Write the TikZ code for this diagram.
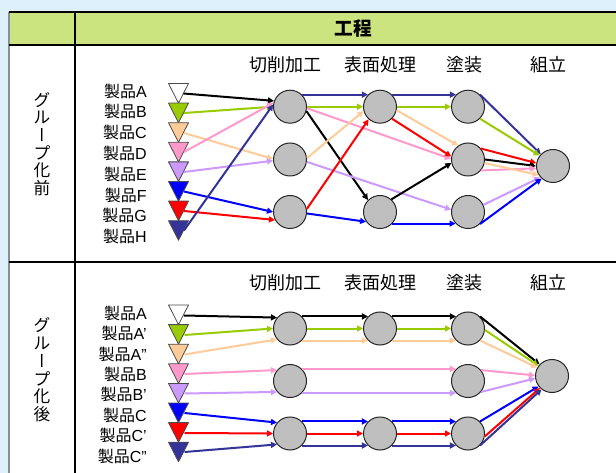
\documentclass[tikz,border=0pt]{standalone}
\usepackage{fontspec}
\setmainfont{Noto Sans CJK JP}
\newfontfamily\lat{Liberation Sans}
\newfontfamily\vjp[RawFeature=+vert]{Noto Sans CJK JP}
\usetikzlibrary{arrows.meta}
\definecolor{bgblue}{RGB}{223,240,253}
\definecolor{hdr}{RGB}{204,228,128}
\definecolor{cgreen}{RGB}{153,204,0}
\definecolor{cpeach}{RGB}{255,204,153}
\definecolor{cpink}{RGB}{255,153,204}
\definecolor{clav}{RGB}{204,153,255}
\definecolor{cblue}{RGB}{0,0,255}
\definecolor{cred}{RGB}{255,0,0}
\definecolor{cnavy}{RGB}{51,51,153}
\definecolor{cgray}{RGB}{191,191,191}
\begin{document}
\begin{tikzpicture}[x=0.75pt,y=-0.75pt,
  proc/.style={circle,draw=black!85,line width=0.75pt,fill=cgray,minimum size=24.75pt,inner sep=0pt},
  flow/.style={line width=1.5pt,-{Triangle[length=4.5pt,width=4.5pt]}},
  tri/.style={draw=black!70,line width=0.6pt,line join=round},
  lbl/.style={anchor=east,font=\fontsize{12pt}{14pt}\selectfont,inner sep=0pt},
  colhd/.style={font=\fontsize{13.5pt}{15pt}\selectfont,inner sep=0pt},
  grid/.style={line width=0.8pt,draw=black},
  vtext/.style={align=center,inner sep=0pt,font=\fontsize{12.5pt}{13.3pt}\selectfont}
]
\useasboundingbox (0,0) rectangle (616,473);
\fill[bgblue] (0,0) rectangle (616,473);
% table
\fill[white] (9,12) rectangle (616,473);
\fill[hdr] (9,12) rectangle (616,45);
\draw[black!40!bgblue,line width=0.8pt] (9,12) -- (9,473);
\draw[grid] (9,12) -- (616,12);
\draw[grid] (9,45) -- (616,45);
\draw[grid] (75,12) -- (75,473);
\draw[grid] (9,262) -- (616,262);
\node[font=\fontsize{14pt}{16pt}\selectfont\bfseries,inner sep=0pt] (hd) at (353,28.5) {工程};
\node[vtext] (v1) at (42,144) {グ\\ル\\{\vjp ー}\\プ\\化\\前};
\node[vtext] (v2) at (42,370) {グ\\ル\\{\vjp ー}\\プ\\化\\後};

% ---------- top section ----------
\node[colhd] (h1) at (285,65) {切削加工};
\node[colhd] (h2) at (380,65) {表面処理};
\node[colhd] (h3) at (464,65) {塗装};
\node[colhd] (h4) at (548,65) {組立};

\foreach \c [count=\i from 0] in {white,cgreen,cpeach,cpink,clav,cblue,cred,cnavy}{
  \pgfmathsetmacro{\t}{83.5+19.6*\i}
  \draw[tri,fill=\c] (168.5,\t) -- (188.5,\t) -- (178.5,{\t+19.6}) -- cycle;
}
\foreach \n/\lab [count=\i from 0] in {pA/A,pB/B,pC/C,pD/D,pE/E,pF/F,pG/G,pH/H}{
  \node[lbl] (\n) at (147,{91+20.8*\i}) {製品{\lat \lab}};
}
\coordinate (sA) at (183.5,93.5);
\coordinate (sB) at (184,113);
\coordinate (sC) at (184,133);
\coordinate (sD) at (184,152);
\coordinate (sE) at (184,172);
\coordinate (sF) at (184,191.5);
\coordinate (sG) at (184,211);
\coordinate (sH) at (184,230.5);

\node[proc] (c1a) at (290,106.7) {};
\node[proc] (c1b) at (290,159.5) {};
\node[proc] (c1c) at (290,212) {};
\node[proc] (c2a) at (380,106.7) {};
\node[proc] (c2c) at (380,212) {};
\node[proc] (c3a) at (468,106.7) {};
\node[proc] (c3b) at (468,159.5) {};
\node[proc] (c3c) at (468,212) {};
\node[proc] (asm) at (553,166) {};

\draw[flow,black] (sA) -- (c1a.160);
\draw[flow,cgreen] (sB) -- (c1a.180);
\draw[flow,cpeach] (sC) -- (c1b.178);
\draw[flow,cpink] (sD) -- (c1a.167);
\draw[flow,clav] (sE) -- (c1b.184);
\draw[flow,cblue] (sF) -- (c1c.180);
\draw[flow,cred] (sG) -- (c1c.208);
\draw[flow,cnavy] (sH) -- (c1a.173);

\draw[flow,cnavy] (c1a.45) -- (c2a.135);
\draw[flow,cgreen] (c1a.0) -- (c2a.180);
\draw[flow,black] (c1a.-15) -- (c2c.135);
\draw[flow,cpink] (c1a.-5) -- (c3b.178);
\draw[flow,cpeach] (c1b.5) -- (c2a.195);
\draw[flow,clav] (c1b.-8) -- (c3c.172);
\draw[flow,cred] (c1c.10) -- (c2a.228);
\draw[flow,cblue] (c1c.-5) -- (c2c.215);

\draw[flow,cnavy] (c2a.45) -- (c3a.135);
\draw[flow,cgreen] (c2a.0) -- (c3a.180);
\draw[flow,cpeach] (c2a.-12) -- (c3b.125);
\draw[flow,cred] (c2a.-45) -- (c3b.170);
\draw[flow,black] (c2c.48) -- (c3b.192);
\draw[flow,cblue] (c2c.-43) -- (c3c.223);

\draw[flow,cnavy] (c3a.45) -- (asm.136);
\draw[flow,cgreen] (c3a.-45) -- (asm.142);
\draw[flow,cred] (c3b.40) -- (asm.170);
\draw[flow,black] (c3b.0) -- (asm.180);
\draw[flow,cpink] (c3b.-40) -- (asm.188);
\draw[flow,cpeach] (c3b.-12) -- (asm.212);
\draw[flow,clav] (c3c.25) -- (asm.222);
\draw[flow,cblue] (c3c.-45) -- (asm.228);

% ---------- lower section ----------
\node[colhd] (k1) at (285,283) {切削加工};
\node[colhd] (k2) at (380,283) {表面処理};
\node[colhd] (k3) at (464,283) {塗装};
\node[colhd] (k4) at (548,283) {組立};

\foreach \c [count=\i from 0] in {white,cgreen,cpeach,cpink,clav,cblue,cred,cnavy}{
  \pgfmathsetmacro{\t}{305+19.6*\i}
  \draw[tri,fill=\c] (168.5,\t) -- (188.5,\t) -- (178.5,{\t+19.6}) -- cycle;
}
\foreach \n/\lab [count=\i from 0] in {qA/A,qAa/A’,qAb/A”,qB/B,qBa/B’,qC/C,qCa/C’,qCb/C”}{
  \node[lbl] (\n) at (147,{313.3+20.4*\i}) {製品{\lat \lab}};
}
\coordinate (tA) at (184,315.5);
\coordinate (tAa) at (184.5,335);
\coordinate (tAb) at (184.5,354.5);
\coordinate (tB) at (184.5,374);
\coordinate (tBa) at (184.5,393.5);
\coordinate (tC) at (184.5,413);
\coordinate (tCa) at (184.5,433);
\coordinate (tCb) at (184.5,452);

\node[proc] (d1a) at (290,328.5) {};
\node[proc] (d1b) at (290,381) {};
\node[proc] (d1c) at (290,433.5) {};
\node[proc] (d2a) at (380,328.5) {};
\node[proc] (d2c) at (380,433.5) {};
\node[proc] (d3a) at (468,328.5) {};
\node[proc] (d3b) at (468,381) {};
\node[proc] (d3c) at (468,433.5) {};
\node[proc] (dasm) at (552,376) {};

\draw[flow,black] (tA) -- (d1a.140);
\draw[flow,cgreen] (tAa) -- (d1a.180);
\draw[flow,cpeach] (tAb) -- (d1a.220);
\draw[flow,cpink] (tB) -- (d1b.140);
\draw[flow,clav] (tBa) -- (d1b.220);
\draw[flow,cblue] (tC) -- (d1c.140);
\draw[flow,cred] (tCa) -- (d1c.180);
\draw[flow,cnavy] (tCb) -- (d1c.220);

\draw[flow,black] (d1a.45) -- (d2a.135);
\draw[flow,cgreen] (d1a.0) -- (d2a.180);
\draw[flow,cpeach] (d1a.-45) -- (d2a.225);
\draw[flow,black] (d2a.45) -- (d3a.135);
\draw[flow,cgreen] (d2a.0) -- (d3a.180);
\draw[flow,cpeach] (d2a.-45) -- (d3a.225);
\draw[flow,cpink] (d1b.45) -- (d3b.135);
\draw[flow,clav] (d1b.-45) -- (d3b.225);
\draw[flow,cblue] (d1c.45) -- (d2c.135);
\draw[flow,cred] (d1c.0) -- (d2c.180);
\draw[flow,cnavy] (d1c.-45) -- (d2c.225);
\draw[flow,cblue] (d2c.45) -- (d3c.135);
\draw[flow,cred] (d2c.0) -- (d3c.180);
\draw[flow,cnavy] (d2c.-45) -- (d3c.225);

\draw[flow,black] (d3a.45) -- (dasm.137);
\draw[flow,cgreen] (d3a.-5) -- (dasm.143);
\draw[flow,cpeach] (d3a.-45) -- (dasm.150);
\draw[flow,cpink] (d3b.40) -- (dasm.178);
\draw[flow,clav] (d3b.-40) -- (dasm.188);
\draw[flow,cblue] (d3c.45) -- (dasm.218);
\draw[flow,cred] (d3c.-10) -- (dasm.225);
\draw[flow,cnavy] (d3c.-45) -- (dasm.232);
\end{tikzpicture}
\end{document}
